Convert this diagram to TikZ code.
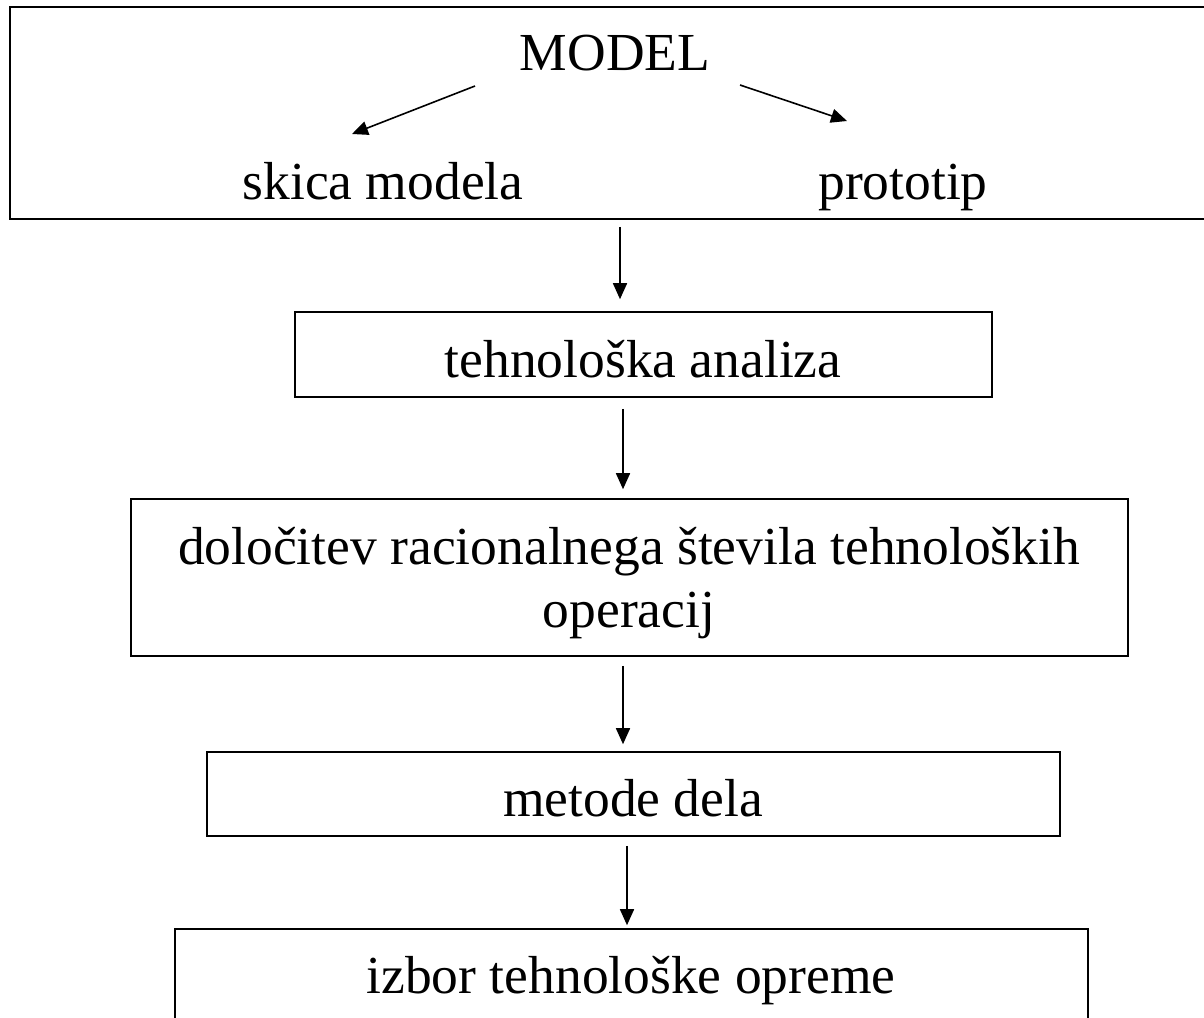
\documentclass[tikz,border=0pt]{standalone}
\usepackage{fontspec}
\setmainfont{Liberation Serif}
\usetikzlibrary{arrows.meta}
\begin{document}
\begin{tikzpicture}[x=1pt,y=-1pt,
  box/.style={draw=black,line width=1.6pt,rectangle,inner sep=0pt},
  lbl/.style={anchor=base,inner sep=0pt,font=\fontsize{53.5}{63}\selectfont},
  arr/.style={line width=1.6pt,-{Triangle[length=16pt,width=14pt]}}]
\useasboundingbox (0,0) rectangle (1204,1017);
% boxes (corner to corner)
\node[box,minimum width=1200pt,minimum height=212pt] (top) at (610,113) {};
\node[box,minimum width=697pt,minimum height=85pt] (ana) at (643.5,354.5) {};
\node[box,minimum width=997pt,minimum height=157pt] (ops) at (629.5,577.5) {};
\node[box,minimum width=853pt,minimum height=84pt] (met) at (633.5,794) {};
\node[box,minimum width=913pt,minimum height=160pt] (opr) at (631.5,1009) {};
% labels
\node[lbl] (model) at (615,70) {MODEL};
\node[lbl] (skica) at (383,199) {skica modela};
\node[lbl] (proto) at (903,199) {prototip};
\node[lbl] (tana) at (643,377) {tehnološka analiza};
\node[lbl] (tops1) at (629,564) {določitev racionalnega števila tehnoloških};
\node[lbl] (tops2) at (629,627) {operacij};
\node[lbl] (tmet) at (633,816) {metode dela};
\node[lbl] (topr) at (631,993) {izbor tehnološke opreme};
% arrows from MODEL
\coordinate (ml) at (475,86);
\coordinate (mr) at (740,85);
\coordinate (sk) at (352,134);
\coordinate (pr) at (847,121);
\draw[arr] (ml) -- (sk);
\draw[arr] (mr) -- (pr);
% vertical flow
\coordinate (x1) at (620,0);
\coordinate (x2) at (623,0);
\coordinate (x3) at (627,0);
\draw[arr,shorten <=7pt,shorten >=12pt] (top.south -| x1) -- (ana.north -| x1);
\draw[arr,shorten <=11pt,shorten >=9pt] (ana.south -| x2) -- (ops.north -| x2);
\draw[arr,shorten <=9pt,shorten >=7pt] (ops.south -| x2) -- (met.north -| x2);
\draw[arr,shorten <=9pt,shorten >=3pt] (met.south -| x3) -- (opr.north -| x3);
\end{tikzpicture}
\end{document}
